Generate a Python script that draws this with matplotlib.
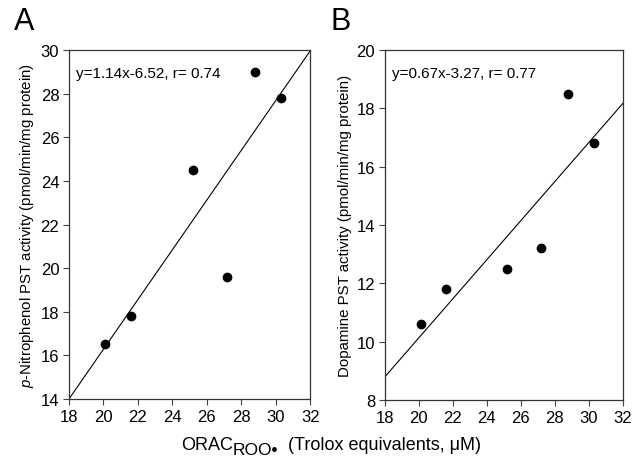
import matplotlib
matplotlib.use("Agg")
import matplotlib.pyplot as plt

plt.rcParams["font.family"] = ["Liberation Sans", "DejaVu Sans"]
plt.rcParams["mathtext.fontset"] = "custom"
plt.rcParams["mathtext.rm"] = "Liberation Sans"
plt.rcParams["mathtext.it"] = "Liberation Sans:italic"

# ORAC values (Trolox equivalents, uM)
orac = [20.1, 21.6, 25.2, 27.2, 28.8, 30.3]
# PST activities (pmol/min/mg protein)
nitrophenol_pst = [16.5, 17.8, 24.5, 19.6, 29.0, 27.8]
dopamine_pst = [10.6, 11.8, 12.5, 13.2, 18.5, 16.8]

# slope, intercept, r
fit_a = (1.14, -6.52, 0.74)
fit_b = (0.67, -3.27, 0.77)

x_ticks = [18, 20, 22, 24, 26, 28, 30, 32]
ya_ticks = [14, 16, 18, 20, 22, 24, 26, 28, 30]
yb_ticks = [8, 10, 12, 14, 16, 18, 20]

fig = plt.figure(figsize=(6.33, 4.64), dpi=100)
ax_a = fig.add_axes([0.109, 0.138, 0.381, 0.752])
ax_b = fig.add_axes([0.608, 0.136, 0.376, 0.754])

panels = [
    (ax_a, nitrophenol_pst, fit_a, ya_ticks, "A",
     r"$p$-Nitrophenol PST activity (pmol/min/mg protein)"),
    (ax_b, dopamine_pst, fit_b, yb_ticks, "B",
     "Dopamine PST activity (pmol/min/mg protein)"),
]

for ax, ys, (m, b, r), yt, letter, ylab in panels:
    ax.scatter(orac, ys, s=36, color="black", zorder=3, clip_on=False)
    xs = [x_ticks[0], x_ticks[-1]]
    ax.plot(xs, [m * x + b for x in xs], color="black", lw=0.8)
    ax.set_xlim(x_ticks[0], x_ticks[-1])
    ax.set_ylim(yt[0], yt[-1])
    ax.set_xticks(x_ticks)
    ax.set_yticks(yt)
    ax.tick_params(direction="out", length=4, width=0.8, labelsize=12,
                   top=False, right=False, color="#444444", pad=3)
    for sp in ax.spines.values():
        sp.set_linewidth(0.9)
        sp.set_color("#333333")
    ax.set_ylabel(ylab, fontsize=10.8, labelpad=3)
    ax.text(0.03, 0.955, f"y={m:.2f}x{b:.2f}, r= {r:.2f}",
            transform=ax.transAxes, ha="left", va="top", fontsize=11)
    ax.text(-0.23, 1.04, letter, transform=ax.transAxes, ha="left",
            va="bottom", fontsize=22)

# shared x label: "ORAC" with a lowered, near full-size "ROO•"
t1 = fig.text(0.286, 0.022, "ORAC", ha="left", va="bottom", fontsize=13)
t2 = ax_a.annotate("ROO\u2022", xy=(1, 0), xycoords=t1, xytext=(0, -3),
                   textcoords="offset points", ha="left", va="bottom",
                   fontsize=12.5, annotation_clip=False)
ax_a.annotate("  (Trolox equivalents, \u03bcM)", xy=(1, 0), xycoords=t2,
              xytext=(0, 3), textcoords="offset points", ha="left",
              va="bottom", fontsize=13, annotation_clip=False)

fig.savefig("out.png", dpi=100)
